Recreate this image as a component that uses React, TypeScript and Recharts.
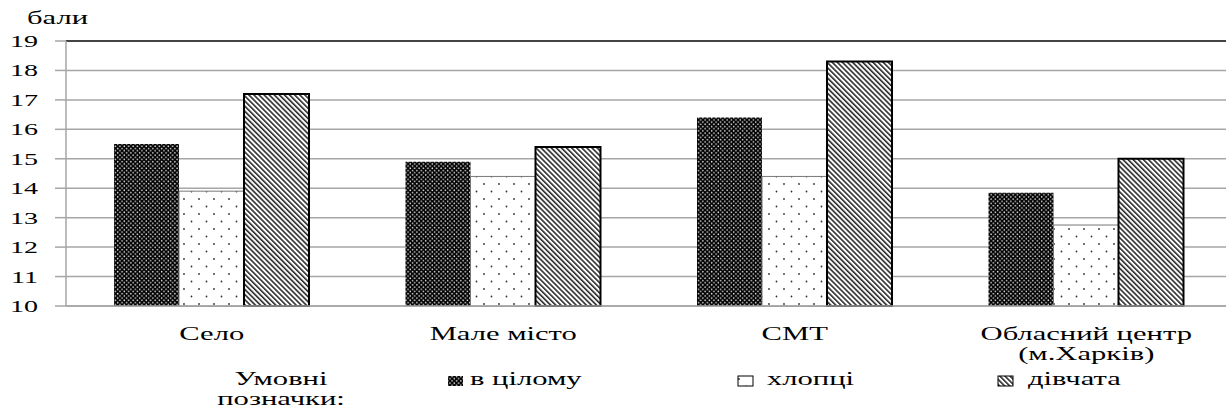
import React from "react";
import { BarChart, Bar, XAxis, YAxis, CartesianGrid, ReferenceLine } from "recharts";

// Середній бал за типом населеного пункту
const categories = ["Село", "Мале місто", "СМТ", "Обласний центр\n(м.Харків)"];
const overall = [15.5, 14.9, 16.4, 13.85];
const boys = [13.9, 14.4, 14.4, 12.75];
const girls = [17.2, 15.4, 18.3, 15.0];
const yTicks = [10, 11, 12, 13, 14, 15, 16, 17, 18, 19];
const seriesNames = ["в цілому", "хлопці", "дівчата"];
const unitLabel = "бали";
const legendTitle = ["Умовні", "позначки:"];

const data = categories.map((c, i) => ({
  name: c,
  overall: overall[i],
  boys: boys[i],
  girls: girls[i],
}));

const FONT = "'Liberation Serif', 'DejaVu Serif', serif";
const SX = 1.7; // text in the source is stretched horizontally
const gridStroke = "#a6a6a6";

const Stretched: React.FC<any> = ({ x, y, anchor = "middle", size = 18, sx = SX, children }) => (
  <text
    transform={`translate(${x},${y}) scale(${sx},1)`}
    textAnchor={anchor}
    style={{ fontFamily: FONT }}
    fontSize={size}
    fill="#000"
  >
    {children}
  </text>
);

const YTick: React.FC<any> = ({ x, y, payload }) => (
  <Stretched x={x} y={y + 6} anchor="end" size={17} sx={1.65}>
    {payload.value}
  </Stretched>
);

const XTick: React.FC<any> = ({ x, y, payload }) => {
  const lines = String(payload.value).split("\n");
  return (
    <g>
      {lines.map((l, i) => (
        <Stretched key={i} x={x} y={y + 34 + i * 20}>
          {l}
        </Stretched>
      ))}
    </g>
  );
};

const fills = ["url(#pOverall)", "url(#pBoys)", "url(#pGirls)"];
const legendPos = [
  { sx: 448, tx: 470 },
  { sx: 738, tx: 767 },
  { sx: 998, tx: 1028 },
];

const LegendBox = () => (
  <svg width={1226} height={50} style={{ position: "absolute", left: 0, top: 360 }}>
    <Stretched x={281} y={25}>{legendTitle[0]}</Stretched>
    <Stretched x={281} y={45}>{legendTitle[1]}</Stretched>
    {seriesNames.map((n, i) => (
      <g key={n}>
        <rect
          x={legendPos[i].sx}
          y={16}
          width={15}
          height={10}
          fill={fills[i]}
          stroke={i === 0 ? "none" : "#000"}
          strokeWidth={1}
        />
        <Stretched x={legendPos[i].tx} y={25} anchor="start">
          {n}
        </Stretched>
      </g>
    ))}
  </svg>
);

export default function App() {
  return (
    <div
      style={{
        position: "absolute",
        left: 0,
        top: 0,
        width: 1226,
        height: 409,
        overflow: "hidden",
        background: "#fff",
      }}
    >
      <BarChart
        width={1240}
        height={409}
        data={data}
        margin={{ top: 41, right: 8, left: 0, bottom: 73 }}
        barGap={0}
        style={{ position: "absolute", left: 0, top: 0 }}
      >
        <defs>
          <pattern id="pOverall" width={4.4} height={4.4} patternUnits="userSpaceOnUse">
            <rect width={4.4} height={4.4} fill="#000" />
            <circle cx={1.1} cy={1.1} r={0.8} fill="#e0e0e0" />
            <circle cx={3.3} cy={3.3} r={0.8} fill="#e0e0e0" />
          </pattern>
          <pattern id="pBoys" width={15} height={15} patternUnits="userSpaceOnUse">
            <rect width={15} height={15} fill="#fff" />
            <circle cx={4} cy={4} r={0.9} fill="#333" />
            <circle cx={11.5} cy={11.5} r={0.9} fill="#333" />
          </pattern>
          <pattern
            id="pGirls"
            width={3.6}
            height={3.6}
            patternUnits="userSpaceOnUse"
            patternTransform="rotate(-45)"
          >
            <rect width={3.6} height={3.6} fill="#fff" />
            <rect width={1.6} height={3.6} fill="#2a2a2a" />
          </pattern>
        </defs>
        <text x={27} y={24} transform="translate(27,24) scale(1.7,1) translate(-27,-24)" style={{ fontFamily: FONT }} fontSize={18} fill="#000">
          {unitLabel}
        </text>
        <CartesianGrid stroke={gridStroke} strokeWidth={1.5} vertical={false} />
        <XAxis
          dataKey="name"
          axisLine={{ stroke: gridStroke, strokeWidth: 1.5 }}
          tickLine={false}
          tickSize={0}
          tickMargin={0}
          height={30}
          interval={0}
          tick={<XTick />}
        />
        <YAxis
          type="number"
          domain={[10, 19]}
          ticks={yTicks}
          width={66}
          axisLine={{ stroke: gridStroke, strokeWidth: 1.5 }}
          tickLine={{ stroke: gridStroke, strokeWidth: 1.5 }}
          tickSize={11}
          tickMargin={17}
          tick={<YTick />}
        />
        <ReferenceLine y={19} stroke="#444" strokeWidth={2} />
        <Bar
          dataKey="overall"
          name={seriesNames[0]}
          fill={fills[0]}
          barSize={65}
          isAnimationActive={false}
        />
        <Bar
          dataKey="boys"
          name={seriesNames[1]}
          fill={fills[1]}
          stroke="#777"
          strokeWidth={1}
          barSize={65}
          isAnimationActive={false}
        />
        <Bar
          dataKey="girls"
          name={seriesNames[2]}
          fill={fills[2]}
          stroke="#000"
          strokeWidth={2}
          barSize={65}
          isAnimationActive={false}
        />
      </BarChart>
      <LegendBox />
    </div>
  );
}
